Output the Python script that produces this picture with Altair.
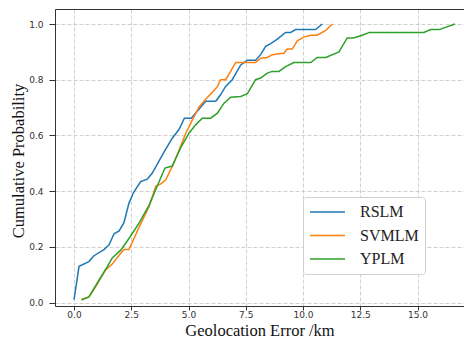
import altair as alt
import pandas as pd

methods = ["RSLM", "SVMLM", "YPLM"]
colors = ["#1f77b4", "#ff7f0e", "#2ca02c"]

rslm_x = [0.0, 0.22, 0.65, 0.87, 1.31, 1.53, 1.75, 1.97, 2.18, 2.4, 2.6, 2.91, 3.2, 3.42,
          3.86, 4.29, 4.59, 4.82, 5.12, 5.39, 5.75, 6.19, 6.4, 6.62, 6.91, 7.28, 7.57, 7.93,
          8.15, 8.37, 8.59, 8.88, 9.24, 9.46, 9.68, 10.55, 10.84]
rslm_y = [0.01, 0.13, 0.147, 0.168, 0.19, 0.207, 0.247, 0.257, 0.287, 0.357, 0.395, 0.434,
          0.443, 0.465, 0.53, 0.59, 0.622, 0.662, 0.662, 0.688, 0.723, 0.723, 0.746, 0.776,
          0.80, 0.853, 0.87, 0.87, 0.89, 0.92, 0.93, 0.946, 0.97, 0.97, 0.98, 0.98, 1.0]

svmlm_x = [0.33, 0.65, 0.95, 1.38, 1.67, 1.97, 2.18, 2.4, 2.84, 3.28, 3.57, 3.79, 4.0, 4.29,
           4.59, 4.88, 5.17, 5.46, 5.75, 6.04, 6.26, 6.4, 6.62, 6.84, 7.06, 7.93, 8.15, 8.44,
           8.66, 8.95, 9.17, 9.31, 9.53, 9.75, 10.04, 10.34, 10.62, 10.99, 11.28]
svmlm_y = [0.01, 0.02, 0.057, 0.117, 0.138, 0.17, 0.19, 0.19, 0.27, 0.345, 0.417, 0.426,
           0.44, 0.488, 0.548, 0.608, 0.656, 0.702, 0.73, 0.755, 0.775, 0.80, 0.80, 0.83,
           0.862, 0.862, 0.877, 0.88, 0.89, 0.893, 0.895, 0.91, 0.91, 0.94, 0.953, 0.96,
           0.96, 0.977, 1.0]

yplm_x = [0.33, 0.65, 1.09, 1.46, 1.67, 2.04, 2.4, 2.84, 3.28, 3.97, 4.29, 4.66, 5.02, 5.31,
          5.6, 5.97, 6.26, 6.55, 6.84, 7.28, 7.57, 7.93, 8.15, 8.44, 8.66, 8.95, 9.24, 9.6,
          10.34, 10.62, 10.99, 11.57, 11.93, 12.2, 12.59, 12.9, 15.28, 15.57, 15.94, 16.64]
yplm_y = [0.01, 0.02, 0.08, 0.13, 0.16, 0.188, 0.23, 0.285, 0.35, 0.483, 0.49, 0.556, 0.608,
          0.638, 0.662, 0.662, 0.68, 0.716, 0.737, 0.74, 0.75, 0.80, 0.806, 0.824, 0.83,
          0.83, 0.847, 0.862, 0.862, 0.88, 0.88, 0.90, 0.95, 0.95, 0.96, 0.97, 0.97, 0.98,
          0.98, 1.0]

x_ticks = [0.0, 2.5, 5.0, 7.5, 10.0, 12.5, 15.0]
y_ticks = [0.0, 0.2, 0.4, 0.6, 0.8, 1.0]

rows = []
for name, xs, ys in [("RSLM", rslm_x, rslm_y), ("SVMLM", svmlm_x, svmlm_y), ("YPLM", yplm_x, yplm_y)]:
    for i, (xv, yv) in enumerate(zip(xs, ys)):
        rows.append({"method": name, "err": xv, "prob": yv, "i": i})
df = pd.DataFrame(rows)

serif = "Liberation Serif"
sans = "DejaVu Sans"
frame = "#333333"

x_scale = alt.Scale(domain=[-0.83, 17.03], nice=False, zero=False)
y_scale = alt.Scale(domain=[-0.0125, 1.054], nice=False, zero=False)

lines = alt.Chart(df).mark_line(strokeWidth=1.5, clip=True).encode(
    x=alt.X("err:Q", scale=x_scale,
            axis=alt.Axis(values=x_ticks, format=".1f", title="Geolocation Error /km",
                          titleBaseline="alphabetic", titleY=29.3, domain=True,
                          domainColor=frame, domainWidth=1, tickSize=4, labelPadding=0)),
    y=alt.Y("prob:Q", scale=y_scale,
            axis=alt.Axis(values=y_ticks, format=".1f", title="Cumulative Probability",
                          titlePadding=2, titleY=151.5, domain=True,
                          domainColor=frame, domainWidth=1, tickSize=6, labelPadding=6)),
    color=alt.Color("method:N",
                    scale=alt.Scale(domain=methods, range=colors),
                    legend=alt.Legend(title=None, orient="none", legendX=248, legendY=188,
                                      symbolType="stroke", symbolSize=1225,
                                      symbolStrokeWidth=1.5, clipHeight=18, rowPadding=5.5,
                                      labelOffset=14, padding=6, labelFont=serif,
                                      labelFontSize=16, labelColor="#222222",
                                      fillColor="#ffffff", strokeColor="#d0d0d0",
                                      cornerRadius=3)),
    order="i:Q",
)

top_edge = alt.Chart(df).mark_point(opacity=0).encode(
    x=alt.X("err:Q", scale=x_scale,
            axis=alt.Axis(orient="top", domain=True, domainColor=frame, domainWidth=1,
                          ticks=False, labels=False, grid=False, title=None)),
)

chart = alt.layer(lines, top_edge).resolve_axis(x="independent").properties(
    width=409, height=297,
    padding={"left": 47, "top": 1, "right": 0, "bottom": 33},
    autosize="none",
).configure_view(
    stroke=None
).configure_axis(
    grid=True, gridColor="#c4c4c4", gridDash=[4, 2], gridWidth=0.8,
    ticks=True, tickColor=frame, tickWidth=1,
    labelFont=sans, labelFontSize=9, labelColor="#333333",
    titleFont=serif, titleFontSize=16.5, titleFontWeight="normal", titleColor="#111111",
)

chart.save("out.html", embed_options={"renderer": "svg", "actions": False})
